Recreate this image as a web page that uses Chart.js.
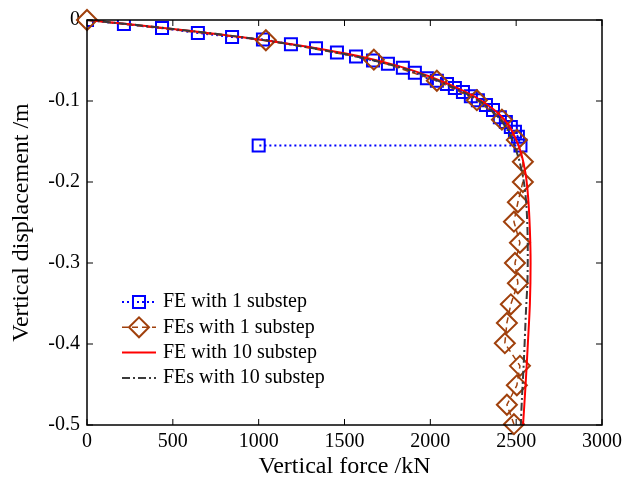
<!DOCTYPE html>
<html>
<head>
<meta charset="utf-8">
<script src="https://cdn.jsdelivr.net/npm/chart.js@4.4.1/dist/chart.umd.min.js"></script>
<style>
  body { margin: 0; background: #fff; }
  canvas { display: block; }
</style>
</head>
<body>
<canvas id="loadChart" width="624" height="490"></canvas>
<script>
// FE, 1 substep (last point drops back to 1000 kN)
var feOneForce = [0, 215, 437, 646, 845, 1025, 1188, 1334, 1456, 1567, 1666, 1753, 1840, 1910, 1980, 2038, 2097, 2143, 2190, 2236, 2277, 2324, 2365, 2405, 2440, 2469, 2493, 2510, 2525, 1000];
var feOneDisp = [0, -0.005, -0.010, -0.016, -0.021, -0.024, -0.030, -0.035, -0.040, -0.045, -0.050, -0.054, -0.059, -0.065, -0.072, -0.075, -0.079, -0.084, -0.089, -0.094, -0.099, -0.105, -0.111, -0.120, -0.126, -0.132, -0.138, -0.144, -0.155, -0.155];

// FEs, 1 substep
var fesOneForce = [0, 1042, 1671, 2038, 2271, 2417, 2504, 2539, 2539, 2510, 2487, 2522, 2493, 2510, 2469, 2446, 2434, 2522, 2504, 2446, 2487];
var fesOneDisp = [0, -0.025, -0.049, -0.075, -0.099, -0.123, -0.148, -0.175, -0.200, -0.225, -0.249, -0.275, -0.300, -0.325, -0.351, -0.374, -0.399, -0.427, -0.451, -0.475, -0.499];

// FE, 10 substep
var feTenForce = [0, 500, 1000, 1500, 1800, 2000, 2200, 2300, 2400, 2460, 2500, 2530, 2555, 2570, 2580, 2584, 2580, 2568, 2555, 2540];
var feTenDisp = [0, -0.011, -0.024, -0.041, -0.056, -0.070, -0.088, -0.100, -0.116, -0.131, -0.148, -0.165, -0.190, -0.220, -0.260, -0.300, -0.350, -0.400, -0.450, -0.500];

// FEs, 10 substep
var fesTenForce = [0, 500, 1000, 1500, 1800, 2000, 2200, 2300, 2400, 2450, 2490, 2520, 2545, 2560, 2567, 2566, 2557, 2545, 2533, 2527];
var fesTenDisp = [0, -0.011, -0.024, -0.042, -0.057, -0.071, -0.090, -0.102, -0.121, -0.136, -0.155, -0.175, -0.200, -0.230, -0.270, -0.320, -0.360, -0.420, -0.470, -0.500];

var xTicks = [0, 500, 1000, 1500, 2000, 2500, 3000];
var yTicks = [0, -0.1, -0.2, -0.3, -0.4, -0.5];

function toPoints(xs, ys) {
	var pts = [];
	for (var i = 0; i < xs.length; i++) {
		pts.push({x: xs[i], y: ys[i]});
	}
	return pts;
}

Chart.defaults.font.family = "'Liberation Serif', 'Times New Roman', serif";
Chart.defaults.color = '#000';

// frame round the plot with inward tick marks on all four sides
var framePlugin = {
	id: 'frame',
	afterDatasetsDraw: function(chart) {
		var ctx = chart.ctx;
		var a = chart.chartArea;
		var xs = chart.scales.x, ys = chart.scales.y;
		var len = 6;
		ctx.save();
		ctx.strokeStyle = '#000';
		ctx.lineWidth = 1.5;
		ctx.strokeRect(a.left, a.top, a.right - a.left, a.bottom - a.top);
		ctx.lineWidth = 1;
		ctx.beginPath();
		xTicks.forEach(function(v) {
			var px = xs.getPixelForValue(v);
			ctx.moveTo(px, a.bottom); ctx.lineTo(px, a.bottom - len);
			ctx.moveTo(px, a.top); ctx.lineTo(px, a.top + len);
		});
		yTicks.forEach(function(v) {
			var py = ys.getPixelForValue(v);
			ctx.moveTo(a.left, py); ctx.lineTo(a.left + len, py);
			ctx.moveTo(a.right, py); ctx.lineTo(a.right - len, py);
		});
		ctx.stroke();
		ctx.restore();
	}
};

// legend drawn inside the plot, lower left
var legendPlugin = {
	id: 'insideLegend',
	afterDraw: function(chart) {
		var ctx = chart.ctx;
		var a = chart.chartArea;
		var x0 = a.left + 35, x1 = a.left + 69, tx = a.left + 76;
		var y = a.top + 282;
		chart.data.datasets.forEach(function(ds) {
			ctx.save();
			ctx.strokeStyle = ds.borderColor;
			ctx.lineWidth = ds.borderWidth;
			ctx.setLineDash(ds.borderDash || []);
			ctx.beginPath();
			ctx.moveTo(x0, y);
			ctx.lineTo(x1, y);
			ctx.stroke();
			ctx.setLineDash([]);
			if (ds.pointRadius > 0) {
				ctx.strokeStyle = ds.pointBorderColor;
				ctx.fillStyle = 'rgba(0,0,0,0)';
				ctx.lineWidth = ds.pointBorderWidth;
				Chart.helpers.drawPoint(ctx, {
					pointStyle: ds.pointStyle,
					radius: ds.pointRadius,
					rotation: 0,
					borderWidth: ds.pointBorderWidth
				}, (x0 + x1) / 2, y);
			}
			ctx.fillStyle = '#000';
			ctx.font = "20px 'Liberation Serif'";
			ctx.textBaseline = 'middle';
			ctx.textAlign = 'left';
			ctx.fillText(ds.label, tx, y);
			ctx.restore();
			y += 25.3;
		});
	}
};

var ctx = document.getElementById('loadChart');
var loadChart = new Chart(ctx, {
	type: 'scatter',
	data: {
		datasets: [{
			label: 'FE with 1 substep',
			data: toPoints(feOneForce, feOneDisp),
			showLine: true,
			borderColor: '#0000ff',
			borderWidth: 2,
			borderDash: [2, 3],
			pointStyle: 'rect',
			pointRadius: 8.5,
			pointBorderWidth: 2,
			pointBorderColor: '#0000ff',
			pointBackgroundColor: 'rgba(0,0,0,0)',
			order: 4
		}, {
			label: 'FEs with 1 substep',
			data: toPoints(fesOneForce, fesOneDisp),
			showLine: true,
			borderColor: '#a0400c',
			borderWidth: 1.5,
			borderDash: [6, 4],
			pointStyle: 'rectRot',
			pointRadius: 10,
			pointBorderWidth: 2,
			pointBorderColor: '#a0400c',
			pointBackgroundColor: 'rgba(0,0,0,0)',
			clip: false,
			order: 3
		}, {
			label: 'FE with 10 substep',
			data: toPoints(feTenForce, feTenDisp),
			showLine: true,
			borderColor: '#ff0000',
			borderWidth: 2,
			pointRadius: 0,
			tension: 0.3,
			order: 2
		}, {
			label: 'FEs with 10 substep',
			data: toPoints(fesTenForce, fesTenDisp),
			showLine: true,
			borderColor: '#3a3a3a',
			borderWidth: 2,
			borderDash: [8, 3, 2, 3],
			pointRadius: 0,
			tension: 0.3,
			order: 1
		}]
	},
	options: {
		responsive: false,
		animation: false,
		layout: { padding: { top: 20, right: 22, left: 0, bottom: 0 } },
		plugins: {
			legend: { display: false },
			tooltip: { enabled: false }
		},
		scales: {
			x: {
				type: 'linear',
				min: 0,
				max: 3000,
				grid: { display: false, drawTicks: false },
				border: { display: false },
				ticks: {
					stepSize: 500,
					padding: 5,
					font: { size: 20 },
					callback: function(value) { return String(value); }
				},
				title: { display: true, text: 'Vertical force /kN', font: { size: 24 }, padding: { top: 0, bottom: 9 } },
				afterFit: function(scale) {
					scale.height = 65;
					scale.paddingLeft = 0;
					scale.paddingRight = 0;
				}
			},
			y: {
				type: 'linear',
				min: -0.5,
				max: 0,
				grid: { display: false, drawTicks: false },
				border: { display: false },
				ticks: {
					stepSize: 0.1,
					padding: 7,
					font: { size: 20 },
					callback: function(value) { return String(Math.round(value * 10) / 10); }
				},
				title: { display: true, text: 'Vertical displacement /m', font: { size: 24 }, padding: { top: 7, bottom: 0 } },
				afterFit: function(scale) { scale.width = 87; }
			}
		}
	},
	plugins: [framePlugin, legendPlugin]
});
</script>
</body>
</html>
